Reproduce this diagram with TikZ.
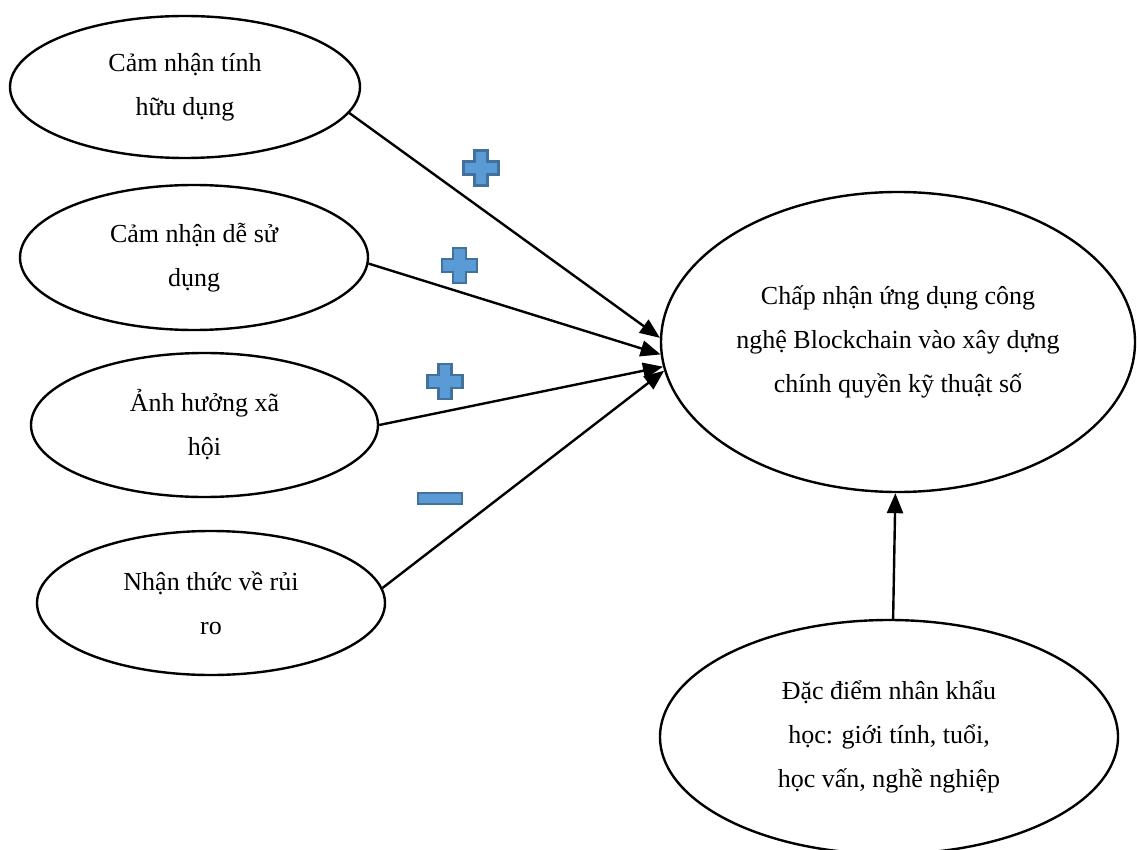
\documentclass[tikz,border=0pt]{standalone}
\usepackage{fontspec}
\setmainfont{Liberation Serif}
\usetikzlibrary{shapes.geometric,arrows.meta}
\definecolor{signfill}{HTML}{5B9BD5}
\definecolor{signline}{HTML}{41719C}
\tikzset{
  oval/.style={draw=black, line width=2.4pt, ellipse, inner sep=0pt, align=center,
    font=\fontsize{26}{44}\selectfont},
  link/.style={draw=black, line width=2.4pt, -{Triangle[length=20pt,width=16pt]}},
  sign/.style={fill=signfill, draw=signline, line width=2.5pt},
  plussign/.pic={
    \path[sign] (-6.5,-17.5) -- (6.5,-17.5) -- (6.5,-6.5) -- (17.5,-6.5) -- (17.5,6.5)
      -- (6.5,6.5) -- (6.5,17.5) -- (-6.5,17.5) -- (-6.5,6.5) -- (-17.5,6.5)
      -- (-17.5,-6.5) -- (-6.5,-6.5) -- cycle;
  }
}
\begin{document}
\begin{tikzpicture}[x=1pt,y=-1pt]
\useasboundingbox (0,0) rectangle (1137,850);
\node[oval, minimum width=350pt, minimum height=142pt] (e1) at (185,87) {Cảm nhận tính\\hữu dụng};
\node[oval, minimum width=348pt, minimum height=145pt] (e2) at (194,257.5) {Cảm nhận dễ sử\\dụng};
\node[oval, minimum width=347pt, minimum height=144pt] (e3) at (204.5,425) {Ảnh hưởng xã\\hội};
\node[oval, minimum width=348pt, minimum height=144pt] (e4) at (211,603) {Nhận thức về rủi\\ro};
\node[oval, minimum width=474pt, minimum height=300pt] (big) at (898,342) {Chấp nhận ứng dụng công\\nghệ Blockchain vào xây dựng\\chính quyền kỹ thuật số};
\node[oval, minimum width=458pt, minimum height=234pt] (bot) at (889,737) {Đặc điểm nhân khẩu\\học: giới tính, tuổi,\\học vấn, nghề nghiệp};

\draw[link] (e1.-9.5) -- (big.179.5);
\draw[link] (e2.-2.5) -- (big.183.8);
\draw[link] (e3.east) -- (big.186.5);
\draw[link] (e4.5.3) -- (big.187.5);
\draw[link] (bot.88) -- (big.-91.1);

\pic at (481,168) {plussign};
\pic at (459.5,265.5) {plussign};
\pic at (445,381.5) {plussign};
\path[sign] (418,493) rectangle (462,504);
\end{tikzpicture}
\end{document}
